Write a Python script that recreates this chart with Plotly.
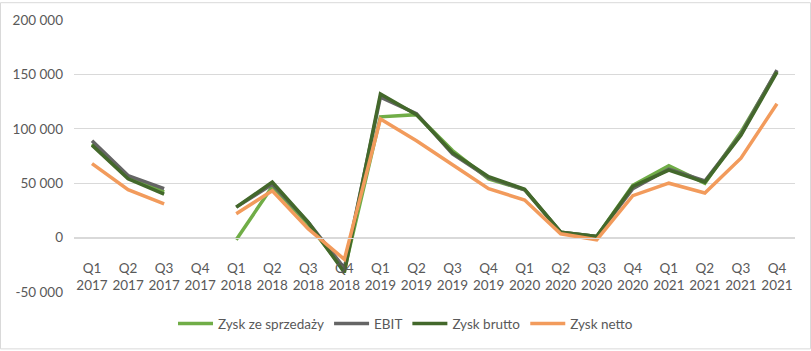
import plotly.graph_objects as go

quarters = ["Q1", "Q2", "Q3", "Q4"] * 5
years = ["2017"] * 4 + ["2018"] * 4 + ["2019"] * 4 + ["2020"] * 4 + ["2021"] * 4
categories = [f"{q}<br>{y}" for q, y in zip(quarters, years)]

zysk_sprzedazy = [86000, 55000, 42000, None, -2000, 47000, 12000, -30000,
                  111000, 113000, 80000, 54000, 44000, 5000, 1000, 48000,
                  66000, 50000, 97000, 153000]
ebit = [89000, 57000, 45000, None, 28000, 49000, 14000, -28000,
        129000, 114000, 77000, 55000, 44000, 5000, 1000, 45000,
        63000, 52000, 95000, 154000]
zysk_brutto = [85000, 54000, 40000, None, 28000, 51000, 14000, -32000,
               132000, 113000, 78000, 56000, 44500, 5000, 1000, 47000,
               62000, 51000, 94000, 152000]
zysk_netto = [68000, 44000, 31000, None, 22000, 43000, 8000, -20000,
              109000, 89000, 67000, 45000, 34500, 3500, -2000, 38500,
              50000, 41000, 73000, 123000]

series_names = ["Zysk ze sprzedaży", "EBIT", "Zysk brutto", "Zysk netto"]
series_values = [zysk_sprzedazy, ebit, zysk_brutto, zysk_netto]
series_colors = ["#70AD47", "#656565", "#43682B", "#F29B5C"]

y_tickvals = [-50000, 0, 50000, 100000, 150000, 200000]
y_ticktext = ["-50 000", "0", "50 000", "100 000", "150 000", "200 000"]

W, H = 811, 351
L, R, T, B = 74, 16, 18, 58
FONT = "Lato, Open Sans, sans-serif"
TXT = "#595959"
GRID = "#D9D9D9"

fig = go.Figure()
for name, vals, col in zip(series_names, series_values, series_colors):
    fig.add_trace(go.Scatter(
        x=categories, y=vals, name=name, mode="lines",
        line=dict(color=col, width=3.5), connectgaps=False,
    ))

ymin, ymax = -50000, 200000
zero_pos = (0 - ymin) / (ymax - ymin)
pw = W - L - R
ph = H - T - B

fig.update_layout(
    width=W, height=H,
    margin=dict(l=L, r=R, t=T, b=B),
    paper_bgcolor="white", plot_bgcolor="white",
    font=dict(family=FONT, size=13.5, color=TXT),
    showlegend=True,
    legend=dict(orientation="h", x=(W / 2 - L) / pw, xanchor="center",
                y=-(325 - (H - B)) / ph, yanchor="middle",
                font=dict(family=FONT, size=13.5, color=TXT),
                itemwidth=35, tracegroupgap=0),
    xaxis=dict(
        type="category", range=[-0.5, len(categories) - 0.5],
        showgrid=False, showline=True, linecolor=GRID,
        linewidth=1, anchor="free", position=zero_pos, ticks="",
        tickfont=dict(family=FONT, size=13.5, color=TXT),
        ticklabelstandoff=18, zeroline=False,
    ),
    yaxis=dict(
        range=[ymin, ymax], tickvals=y_tickvals, ticktext=y_ticktext,
        showgrid=True, gridcolor=GRID, gridwidth=1, zeroline=False,
        showline=False, ticks="", ticklabelstandoff=10,
        tickfont=dict(family=FONT, size=13.5, color=TXT),
    ),
)

fig.add_shape(type="rect", xref="paper", yref="paper",
              x0=-(L - 0.5) / pw, x1=1 + (R - 0.5) / pw,
              y0=-(B - 0.5) / ph, y1=1 + (T - 0.5) / ph,
              line=dict(color=GRID, width=1), fillcolor="rgba(0,0,0,0)",
              layer="below")

fig.write_html("out.html")
